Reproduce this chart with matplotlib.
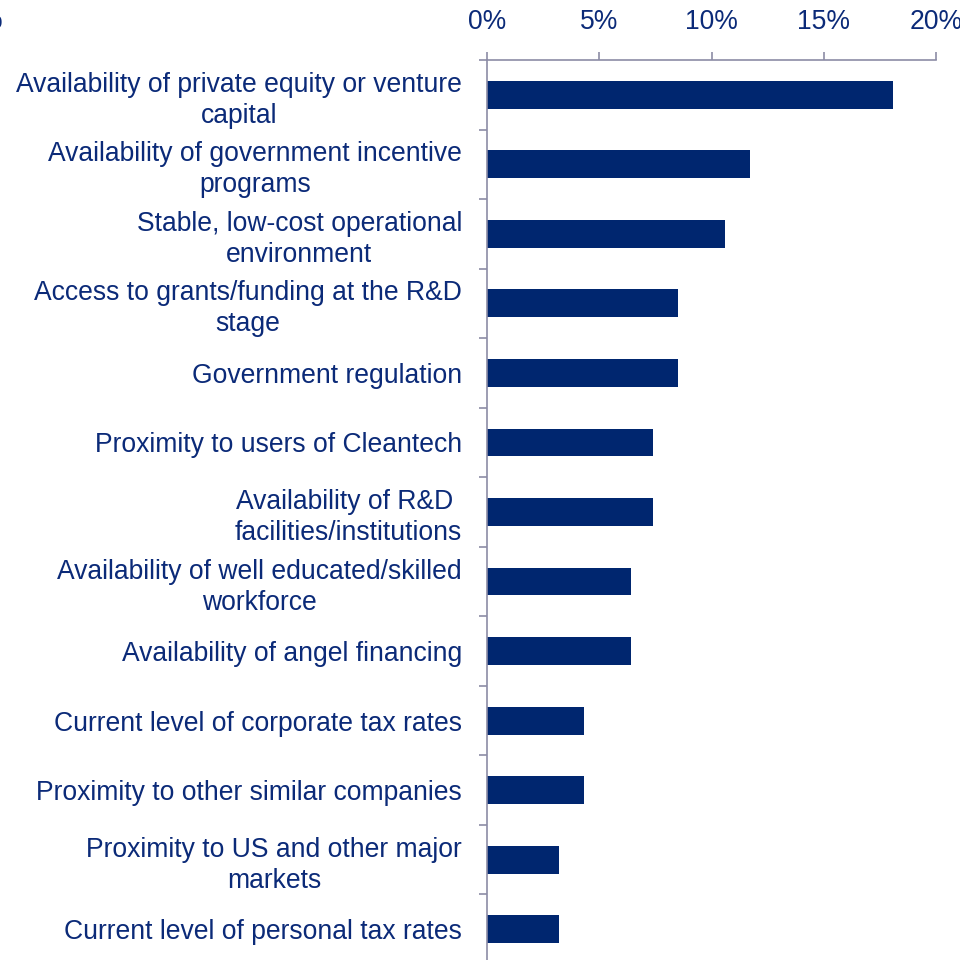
import matplotlib
matplotlib.use('Agg')
import matplotlib.pyplot as plt
import numpy as np
from matplotlib.ticker import FuncFormatter

plt.rcParams['font.family'] = ['Liberation Sans', 'DejaVu Sans']

# Share of respondents naming each factor (%)
factors = [
    'Availability of private equity or venture\ncapital',
    'Availability of government incentive\nprograms',
    'Stable, low-cost operational\nenvironment',
    'Access to grants/funding at the R&D\nstage',
    'Government regulation',
    'Proximity to users of Cleantech',
    'Availability of R&D \nfacilities/institutions',
    'Availability of well educated/skilled\nworkforce',
    'Availability of angel financing',
    'Current level of corporate tax rates',
    'Proximity to other similar companies',
    'Proximity to US and other major\nmarkets',
    'Current level of personal tax rates',
]
shares = [18.1, 11.7, 10.6, 8.5, 8.5, 7.4, 7.4, 6.4, 6.4, 4.3, 4.3, 3.2, 3.2]
x_ticks = [0, 5, 10, 15, 20]

BAR = '#00266f'
TEXT = '#0b2a78'
AXIS = '#8c8ca6'
FS = 19.1

fig = plt.figure(figsize=(9.6, 9.6), dpi=100)
ax = fig.add_axes([487 / 960, -4 / 960, 449 / 960, 904 / 960])

y = np.arange(len(factors))
ax.barh(y, shares, height=0.4, color=BAR)

ax.set_xlim(0, 20)
ax.set_ylim(len(factors) - 0.5, -0.5)

ax.xaxis.tick_top()
ax.set_xticks(x_ticks)
ax.xaxis.set_major_formatter(FuncFormatter(lambda v, p: f'{v:.0f}%'))
ax.tick_params(axis='x', which='major', direction='out', length=5.8,
               width=1.2, color=AXIS, labelcolor=TEXT, labelsize=FS, pad=12)

ax.set_yticks(y)
ax.set_yticklabels(factors)
ax.set_yticks(np.arange(len(factors) + 1) - 0.5, minor=True)
ax.tick_params(axis='y', which='major', length=0, labelcolor=TEXT,
               labelsize=FS, pad=18)
ax.tick_params(axis='y', which='minor', direction='out', length=5.8,
               width=1.2, color=AXIS)
for lbl in ax.get_yticklabels():
    lbl.set_multialignment('center')
    lbl.set_linespacing(1.25)

for side in ('right', 'bottom'):
    ax.spines[side].set_visible(False)
for side in ('top', 'left'):
    ax.spines[side].set_color(AXIS)
    ax.spines[side].set_linewidth(1.2)

# stray percent sign at the edge of the frame
fig.text(-21 / 960, 1 - 28 / 960, '%', color=TEXT, fontsize=FS, va='baseline')

fig.savefig('out.png', dpi=100)
